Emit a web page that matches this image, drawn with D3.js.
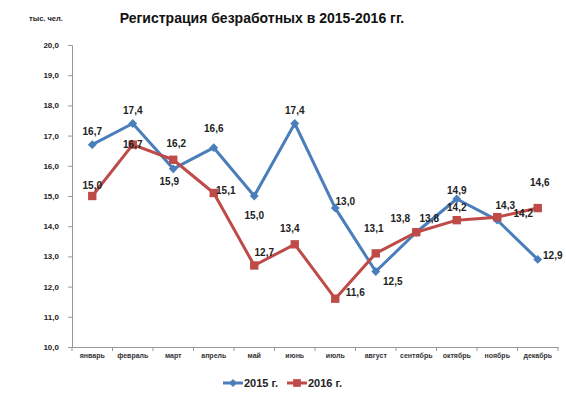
<!DOCTYPE html>
<html>
<head>
<meta charset="utf-8">
<script src="https://cdn.jsdelivr.net/npm/d3@7"></script>
<style>
  body { margin: 0; background: #fff; }
  text { font-family: "Liberation Sans", Arial, sans-serif; font-weight: bold; }
</style>
</head>
<body>
<svg id="chart"></svg>
<script>
// Data
const months = ["январь", "февраль", "март", "апрель", "май", "июнь", "июль", "август", "сентябрь", "октябрь", "ноябрь", "декабрь"];
const values2015 = [16.7, 17.4, 15.9, 16.6, 15.0, 17.4, 14.6, 12.5, 13.8, 14.9, 14.2, 12.9];
const values2016 = [15.0, 16.7, 16.2, 15.1, 12.7, 13.4, 11.6, 13.1, 13.8, 14.2, 14.3, 14.6];
// data labels as printed on the chart (july 2015 reads 13,0)
const labels2015 = ["16,7", "17,4", "15,9", "16,6", "15,0", "17,4", "13,0", "12,5", "13,8", "14,9", "14,2", "12,9"];
const labels2016 = ["15,0", "16,7", "16,2", "15,1", "12,7", "13,4", "11,6", "13,1", "13,8", "14,2", "14,3", "14,6"];
const yTicks = [10, 11, 12, 13, 14, 15, 16, 17, 18, 19, 20];

// label offsets [dx, dy] from the point
const offs2015 = [[0,-13],[0,-13],[-4,13],[0,-19],[0,19],[0,-13],[10,-7],[17,10],[13,-14],[0,-9],[26,-7],[15,-4]];
const offs2016 = [[0,-11],[0,0],[3,-16],[12,-2],[10,-13],[-5,-16],[20,-6],[-2,-25],[-16,-14],[0,-13],[8,-12],[2,-26]];

const width = 566, height = 398;
const margin = { top: 45, right: 8, bottom: 51, left: 72 };

const svg = d3.select("#chart")
  .attr("width", width)
  .attr("height", height);

const x = d3.scaleBand()
  .domain(months)
  .range([margin.left, width - margin.right]);

const y = d3.scaleLinear()
  .domain([10, 20])
  .range([height - margin.bottom, margin.top]);

// title
svg.append("text")
  .attr("x", 262)
  .attr("y", 23)
  .attr("text-anchor", "middle")
  .style("font-size", "14px")
  .attr("fill", "#111")
  .text("Регистрация безработных в 2015-2016 гг.");

svg.append("text")
  .attr("x", 46)
  .attr("y", 21)
  .attr("text-anchor", "middle")
  .style("font-size", "7.5px")
  .attr("fill", "#222")
  .text("тыс. чел.");

// y axis
const yAxis = svg.append("g")
  .attr("transform", `translate(${margin.left},0)`)
  .call(d3.axisLeft(y).tickValues(yTicks).tickSize(4).tickPadding(9)
    .tickFormat(d => d3.format(".1f")(d).replace(".", ",")));
yAxis.select(".domain").attr("stroke", "#999");
yAxis.selectAll(".tick line").attr("stroke", "#999");
yAxis.selectAll("text")
  .style("font-size", "8px")
  .attr("fill", "#222")
  .attr("font-family", null);

// x axis
const xAxis = svg.append("g")
  .attr("transform", `translate(0,${height - margin.bottom})`)
  .call(d3.axisBottom(x).tickSizeOuter(0).tickSize(0).tickPadding(6));
xAxis.select(".domain").attr("stroke", "#999");
xAxis.selectAll("text")
  .style("font-size", "7px")
  .attr("fill", "#333")
  .attr("font-family", null);

// band boundary ticks
svg.append("g")
  .selectAll("line")
  .data(months.concat(["end"]))
  .enter()
  .append("line")
  .attr("x1", (d, i) => margin.left + i * x.step())
  .attr("x2", (d, i) => margin.left + i * x.step())
  .attr("y1", height - margin.bottom)
  .attr("y2", height - margin.bottom + 4)
  .attr("stroke", "#999");

const cx = (d, i) => x(months[i]) + x.bandwidth() / 2;

const series = [
  { values: values2015, labels: labels2015, offs: offs2015, color: "#4a7ebb", symbol: "diamond" },
  { values: values2016, labels: labels2016, offs: offs2016, color: "#be4b48", symbol: "square" }
];

const line = d3.line()
  .x(cx)
  .y(d => y(d));

series.forEach(s => {
  svg.append("path")
    .datum(s.values)
    .attr("fill", "none")
    .attr("stroke", s.color)
    .attr("stroke-width", 3)
    .attr("stroke-linejoin", "round")
    .attr("d", line);
});

series.forEach(s => {
  const sym = s.symbol === "diamond"
    ? d3.symbol().type(d3.symbolDiamond2).size(50)
    : d3.symbol().type(d3.symbolSquare).size(70);
  svg.append("g")
    .selectAll("path")
    .data(s.values)
    .enter()
    .append("path")
    .attr("d", sym)
    .attr("transform", (d, i) => `translate(${cx(d, i)},${y(d)})`)
    .attr("fill", s.color);
});

// data labels
series.forEach(s => {
  svg.append("g")
    .selectAll("text")
    .data(s.values)
    .enter()
    .append("text")
    .attr("x", (d, i) => cx(d, i) + s.offs[i][0])
    .attr("y", (d, i) => y(d) + s.offs[i][1] + 3.5)
    .attr("text-anchor", "middle")
    .style("font-size", "10px")
    .attr("fill", "#222")
    .text((d, i) => s.labels[i]);
});

// legend
const legend = svg.append("g").attr("transform", "translate(223,383)");
[["2015 г.", 0], ["2016 г.", 1]].forEach(([name, k]) => {
  const s = series[k];
  const g = legend.append("g").attr("transform", `translate(${k * 64},0)`);
  g.append("line")
    .attr("x1", 0).attr("x2", 20)
    .attr("stroke", s.color)
    .attr("stroke-width", 3);
  g.append("path")
    .attr("d", k === 0
      ? d3.symbol().type(d3.symbolDiamond2).size(40)()
      : d3.symbol().type(d3.symbolSquare).size(60)())
    .attr("transform", "translate(10,0)")
    .attr("fill", s.color);
  g.append("text")
    .attr("x", 21)
    .attr("y", 4)
    .style("font-size", "11px")
    .attr("fill", "#222")
    .text(name);
});
</script>
</body>
</html>
